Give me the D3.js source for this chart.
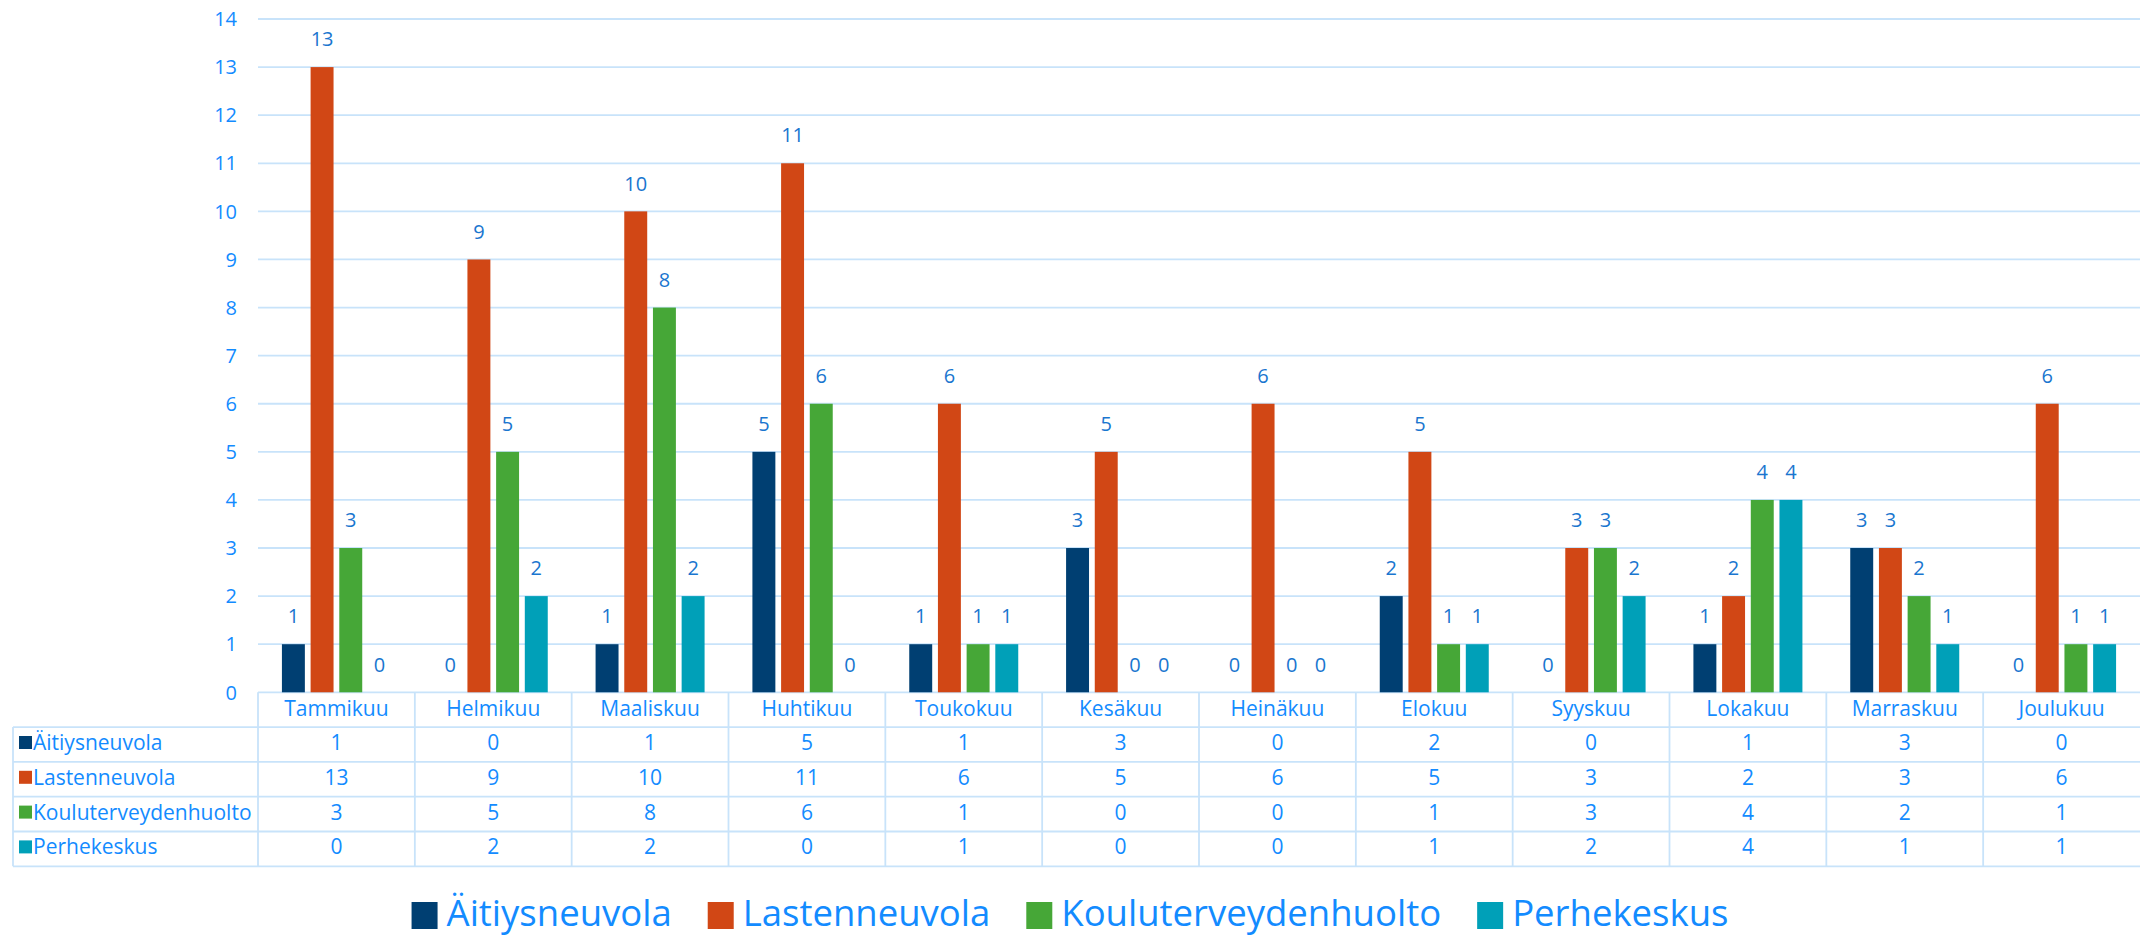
<!DOCTYPE html>
<html>
<head>
<meta charset="utf-8">
<script src="https://cdn.jsdelivr.net/npm/d3@7"></script>
<style>
  body { margin: 0; background: #fff; }
  svg { display: block; font-family: "Open Sans", sans-serif; }
</style>
</head>
<body>
<div class="chart"></div>
<script>
const months = ["Tammikuu", "Helmikuu", "Maaliskuu", "Huhtikuu", "Toukokuu", "Kesäkuu",
  "Heinäkuu", "Elokuu", "Syyskuu", "Lokakuu", "Marraskuu", "Joulukuu"]
const seriesNames = ["Äitiysneuvola", "Lastenneuvola", "Kouluterveydenhuolto", "Perhekeskus"]
const seriesColors = ["#003f72", "#d14715", "#46a737", "#00a0b8"]
const aitiysneuvola = [1, 0, 1, 5, 1, 3, 0, 2, 0, 1, 3, 0]
const lastenneuvola = [13, 9, 10, 11, 6, 5, 6, 5, 3, 2, 3, 6]
const kouluterveydenhuolto = [3, 5, 8, 6, 1, 0, 0, 1, 3, 4, 2, 1]
const perhekeskus = [0, 2, 2, 0, 1, 0, 0, 1, 2, 4, 1, 1]
const yTicks = d3.range(0, 15)

const series = [aitiysneuvola, lastenneuvola, kouluterveydenhuolto, perhekeskus]
  .map((values, i) => ({ name: seriesNames[i], color: seriesColors[i], values }))

const width = 2140, height = 937
const textBlue = "#138bff", labelBlue = "#1a76cf", lineBlue = "#c8e3fa"
const plotLeft = 258, plotRight = 2140, tableLeft = 13
const rowH = 34.8

const svg = d3.select(".chart")
  .append("svg")
    .attr("width", width)
    .attr("height", height)

const y = d3.scaleLinear().domain([0, 14]).range([692.3, 19])
const x = d3.scaleBand().domain(months).range([plotLeft, plotRight])
const groupW = 109
const xs = d3.scaleBand().domain(seriesNames).range([0, groupW]).paddingInner(0.2)

// gridlines
svg.append("g")
  .selectAll("line")
  .data(yTicks)
  .join("line")
    .attr("x1", plotLeft).attr("x2", plotRight)
    .attr("y1", d => y(d)).attr("y2", d => y(d))
    .attr("stroke", lineBlue)
    .attr("stroke-width", 1.8)

// y axis labels
svg.append("g")
  .selectAll("text")
  .data(yTicks)
  .join("text")
    .attr("x", 237)
    .attr("y", d => y(d))
    .attr("dy", "0.36em")
    .attr("text-anchor", "end")
    .attr("font-size", 20)
    .attr("fill", textBlue)
    .text(d => d)

// bars
const groups = svg.append("g")
  .selectAll("g")
  .data(series)
  .join("g")
    .attr("fill", d => d.color)

groups.selectAll("rect")
  .data(s => s.values.map((v, i) => ({ name: s.name, month: months[i], v })))
  .join("rect")
    .attr("x", d => x(d.month) + (x.bandwidth() - groupW) / 2 + xs(d.name))
    .attr("width", xs.bandwidth())
    .attr("y", d => y(d.v))
    .attr("height", d => y(0) - y(d.v))

// data labels
svg.append("g")
  .selectAll("g")
  .data(series)
  .join("g")
  .selectAll("text")
  .data(s => s.values.map((v, i) => ({ name: s.name, month: months[i], v })))
  .join("text")
    .attr("x", d => x(d.month) + (x.bandwidth() - groupW) / 2 + xs(d.name) + xs.bandwidth() / 2)
    .attr("y", d => y(d.v) - 28)
    .attr("dy", "0.36em")
    .attr("text-anchor", "middle")
    .attr("font-size", 20)
    .attr("fill", labelBlue)
    .text(d => d.v)

// data table
const table = svg.append("g")
const top0 = y(0)
const rowsTop = top0 + rowH
const bottom = rowsTop + rowH * series.length

table.selectAll("line.h")
  .data(d3.range(series.length + 1))
  .join("line")
    .attr("x1", tableLeft).attr("x2", plotRight)
    .attr("y1", i => rowsTop + i * rowH).attr("y2", i => rowsTop + i * rowH)
    .attr("stroke", lineBlue).attr("stroke-width", 1.8)

table.append("line")
  .attr("x1", tableLeft).attr("x2", tableLeft)
  .attr("y1", rowsTop).attr("y2", bottom)
  .attr("stroke", lineBlue).attr("stroke-width", 1.8)

table.selectAll("line.v")
  .data(months)
  .join("line")
    .attr("x1", d => x(d)).attr("x2", d => x(d))
    .attr("y1", top0).attr("y2", bottom)
    .attr("stroke", lineBlue).attr("stroke-width", 1.8)

table.selectAll("text.cat")
  .data(months)
  .join("text")
    .attr("x", d => x(d) + x.bandwidth() / 2)
    .attr("y", top0 + rowH / 2 - 1)
    .attr("dy", "0.36em")
    .attr("text-anchor", "middle")
    .attr("font-size", 21)
    .attr("fill", textBlue)
    .text(d => d)

const rows = table.selectAll("g.row")
  .data(series)
  .join("g")
    .attr("transform", (d, i) => `translate(0,${rowsTop + i * rowH + rowH / 2 - 2})`)

rows.append("rect")
  .attr("x", 19).attr("y", -6.5)
  .attr("width", 13).attr("height", 13)
  .attr("fill", d => d.color)

rows.append("text")
  .attr("x", 33)
  .attr("dy", "0.36em")
  .attr("font-size", 21)
  .attr("fill", textBlue)
  .text(d => d.name)

rows.selectAll("text.val")
  .data(s => s.values.map((v, i) => ({ month: months[i], v })))
  .join("text")
    .attr("x", d => x(d.month) + x.bandwidth() / 2)
    .attr("dy", "0.36em")
    .attr("text-anchor", "middle")
    .attr("font-size", 21)
    .attr("fill", textBlue)
    .text(d => d.v)

// legend
const legend = svg.append("g")
const items = legend.selectAll("g")
  .data(series)
  .join("g")

items.append("rect")
  .attr("y", 902).attr("width", 26).attr("height", 27)
  .attr("fill", d => d.color)

items.append("text")
  .attr("x", 35)
  .attr("y", 926)
  .attr("font-size", 36.5)
  .attr("fill", textBlue)
  .text(d => d.name)

let offs = 0
const gap = 36
items.each(function () {
  this._w = 35 + d3.select(this).select("text").node().getComputedTextLength()
})
const total = items.nodes().reduce((a, n) => a + n._w, 0) + gap * (series.length - 1)
offs = width / 2 - total / 2
items.attr("transform", function () {
  const t = `translate(${offs},0)`
  offs += this._w + gap
  return t
})
</script>
</body>
</html>
